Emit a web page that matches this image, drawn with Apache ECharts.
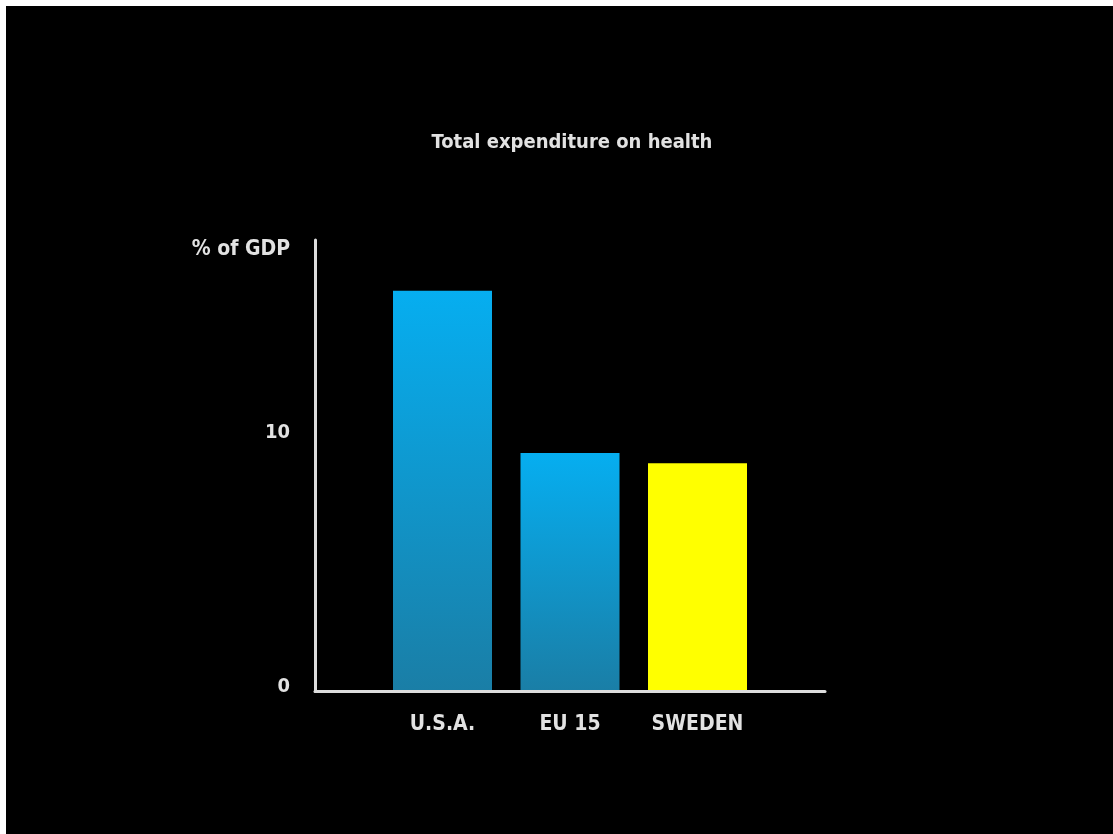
<!DOCTYPE html>
<html>
<head>
<meta charset="utf-8">
<title>Total expenditure on health</title>
<script src="https://cdn.jsdelivr.net/npm/echarts@6/dist/echarts.min.js"></script>
<style>
  html, body { margin: 0; padding: 0; background: #ffffff; }
  #chart { width: 1113px; height: 834px; }
</style>
</head>
<body>
<div id="chart"></div>
<script>
// Health spending as a share of GDP
const titleText = 'Total expenditure on health';
const yAxisName = '% of GDP';
// blank slots at each end keep the bars clear of the axis corner
const categories = ['', 'U.S.A.', 'EU 15', 'SWEDEN', ''];
const values = [null, 15.8, 9.4, 9.0, null];
const tickLabels = ['0', '10'];

const textColor = '#e2e2e2';
const fontFamily = '"DejaVu Sans Condensed", "DejaVu Sans", sans-serif';

const blueBar = new echarts.graphic.LinearGradient(0, 0, 0, 1, [
  { offset: 0, color: '#06aef0' },
  { offset: 1, color: '#1a7ea6' }
]);

const chart = echarts.init(document.getElementById('chart'));
chart.setOption({
  backgroundColor: '#ffffff',
  animation: false,
  graphic: [{
    type: 'rect',
    z: -100,
    silent: true,
    shape: { x: 6, y: 6, width: 1113, height: 834 },
    style: { fill: '#000000' }
  }],
  title: {
    text: titleText,
    left: 567,
    top: 128,
    textAlign: 'center',
    textStyle: { color: textColor, fontSize: 20, fontWeight: 'bold', fontFamily: fontFamily }
  },
  grid: { left: 315, right: 288, top: 240, bottom: 142.5 },
  xAxis: {
    type: 'category',
    data: categories,
    boundaryGap: false,
    z: 10,
    axisLine: { show: true, lineStyle: { color: '#dddddd', width: 3 } },
    axisTick: { show: false },
    axisLabel: {
      color: textColor, fontSize: 21, fontWeight: 'bold', fontFamily: fontFamily,
      margin: 23, interval: 0
    },
    splitLine: { show: false }
  },
  yAxis: {
    type: 'value',
    min: 0,
    max: 17.8,
    interval: 10,
    z: 10,
    name: yAxisName,
    nameLocation: 'end',
    nameGap: -10,
    nameTextStyle: {
      color: textColor, fontSize: 21, fontWeight: 'bold', fontFamily: fontFamily,
      align: 'right', verticalAlign: 'middle', padding: [0, 25, 0, 0]
    },
    axisLine: { show: true, lineStyle: { color: '#dddddd', width: 3 } },
    axisTick: { show: false },
    splitLine: { show: false },
    axisLabel: {
      color: textColor, fontSize: 20, fontWeight: 'bold', fontFamily: fontFamily,
      margin: 25, verticalAlign: 'bottom', lineHeight: 10, showMaxLabel: false,
      formatter: function (v) {
        const s = String(v);
        return tickLabels.indexOf(s) >= 0 ? s : '';
      }
    }
  },
  series: [{
    type: 'bar',
    barWidth: 99,
    data: values.map(function (v, i) {
      if (v === null) return null;
      return {
        value: v,
        itemStyle: { color: categories[i] === 'SWEDEN' ? '#ffff00' : blueBar }
      };
    })
  }]
});
</script>
</body>
</html>
